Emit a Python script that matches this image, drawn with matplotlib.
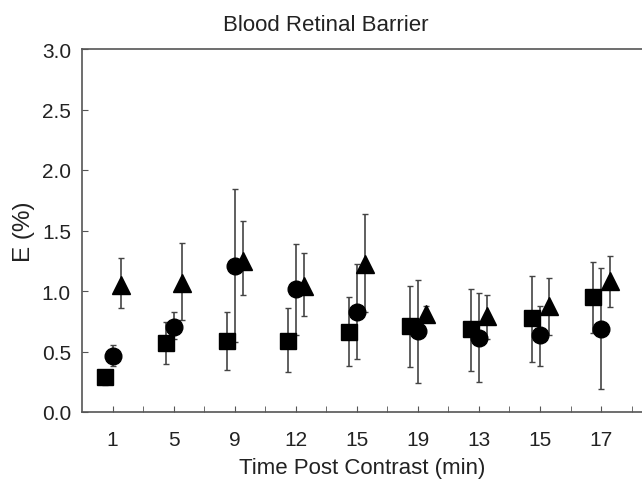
import matplotlib.pyplot as plt
import numpy as np

plt.rcParams['font.family'] = ['Liberation Sans', 'DejaVu Sans']

# category labels along x (order as printed)
labels = ["1", "5", "9", "12", "15", "19", "13", "15", "17"]

# squares
sq_y = [0.29, 0.57, 0.59, 0.59, 0.66, 0.71, 0.69, 0.78, 0.95]
sq_lo = [0.22, 0.40, 0.35, 0.33, 0.38, 0.37, 0.34, 0.41, 0.65]
sq_hi = [0.33, 0.74, 0.83, 0.86, 0.95, 1.04, 1.02, 1.12, 1.24]

# circles
ci_y = [0.46, 0.70, 1.21, 1.02, 0.83, 0.67, 0.61, 0.64, 0.69]
ci_lo = [0.38, 0.60, 0.58, 0.64, 0.44, 0.24, 0.25, 0.38, 0.19]
ci_hi = [0.55, 0.83, 1.84, 1.39, 1.22, 1.09, 0.98, 0.88, 1.19]

# triangles
tr_y = [1.05, 1.07, 1.25, 1.04, 1.22, 0.81, 0.79, 0.88, 1.08]
tr_lo = [0.86, 0.76, 0.97, 0.79, 0.83, 0.74, 0.60, 0.64, 0.87]
tr_hi = [1.27, 1.40, 1.58, 1.31, 1.64, 0.88, 0.97, 1.11, 1.29]

x = np.arange(len(labels))

fig = plt.figure(figsize=(6.42, 4.81), dpi=100)
ax = fig.add_axes([82 / 642, 1 - 413 / 481, 1 - 82 / 642, (413 - 50) / 481])

series = [
    (sq_y, sq_lo, sq_hi, "s", -0.13, 12),
    (ci_y, ci_lo, ci_hi, "o", 0.0, 12),
    (tr_y, tr_lo, tr_hi, "^", 0.14, 13),
]
for y, lo, hi, m, off, ms in series:
    y = np.array(y)
    err = [y - np.array(lo), np.array(hi) - y]
    ax.errorbar(x + off, y, yerr=err, fmt=m, color="black", ms=ms,
                ecolor="#444444", elinewidth=1.2, capsize=2.5, capthick=1.0)

ax.set_xlim(-0.5, 8.67)
ax.set_ylim(0, 3.0)
ax.set_xticks(x)
ax.set_xticklabels(labels)
ax.set_xticks(list(x[:-1] + 0.5) + [8.5], minor=True)
ax.set_yticks(np.arange(0, 3.01, 0.5))
ax.set_yticklabels(["%.1f" % v for v in np.arange(0, 3.01, 0.5)])

ax.tick_params(axis="both", which="both", direction="in", color="#555555",
               labelsize=15, labelcolor="#222222")
ax.tick_params(axis="x", which="major", length=4, pad=13)
ax.tick_params(axis="y", which="major", length=4, pad=8)
ax.tick_params(axis="x", which="minor", length=4)
ax.tick_params(right=False, top=False)

for s in ["left", "top", "bottom"]:
    ax.spines[s].set_color("#555555")
    ax.spines[s].set_linewidth(1.2)
ax.spines["right"].set_visible(False)

ax.set_xlabel("Time Post Contrast (min)", fontsize=16, color="#222222", labelpad=6)
ax.set_ylabel("E (%)", fontsize=17.5, color="#222222", labelpad=5)
ax.set_title("Blood Retinal Barrier", fontsize=16, color="#222222", pad=14,
             x=0.436)

fig.savefig("out.png", dpi=100)
